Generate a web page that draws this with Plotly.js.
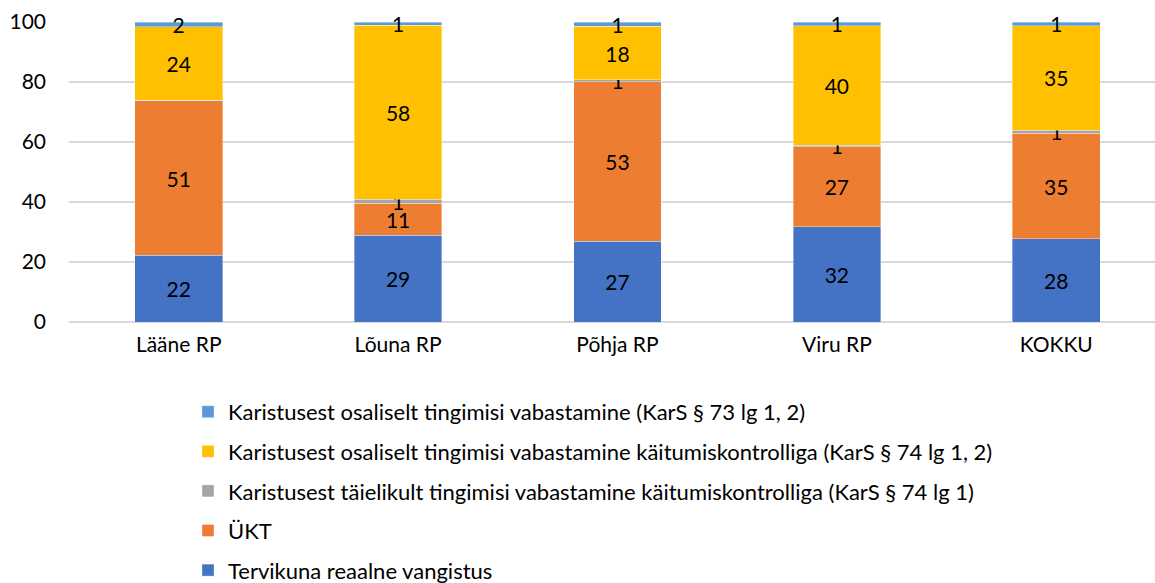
<!DOCTYPE html>
<html>
<head>
<meta charset="utf-8">
<script src="https://cdn.plot.ly/plotly-3.0.1.min.js"></script>
<style>html,body{margin:0;padding:0;background:#fff;}#chart{width:1155px;height:583px;}</style>
</head>
<body>
<div id="chart"></div>
<script>
const categories = ["Lääne RP", "Lõuna RP", "Põhja RP", "Viru RP", "KOKKU"];
const seriesNames = [
  "Tervikuna reaalne vangistus",
  "ÜKT",
  "Karistusest täielikult tingimisi vabastamine käitumiskontrolliga (KarS § 74 lg 1)",
  "Karistusest osaliselt tingimisi vabastamine käitumiskontrolliga (KarS § 74 lg 1, 2)",
  "Karistusest osaliselt tingimisi vabastamine (KarS § 73 lg 1, 2)"
];
const tervikuna = [22.3, 29.0, 27.0, 31.7, 27.7];
const ukt = [51.4, 10.6, 53.1, 26.7, 35.2];
const taielikult = [0.3, 1.3, 0.6, 0.6, 1.1];
const osaliseltKK = [24.4, 58.1, 17.9, 39.8, 34.7];
const osaliselt = [1.6, 1.0, 1.4, 1.2, 1.3];
const showLabel = [
  [true, true, true, true, true],
  [true, true, true, true, true],
  [false, true, true, true, true],
  [true, true, true, true, true],
  [true, true, true, true, true]
];
const colors = ["#4472C4", "#ED7D31", "#A5A5A5", "#FFC000", "#5B9BD5"];
const yTicks = [0, 20, 40, 60, 80, 100];

const allValues = [tervikuna, ukt, taielikult, osaliseltKK, osaliselt];
const FONT = "Lato, 'Open Sans', sans-serif";

const traces = allValues.map((vals, i) => ({
  type: "bar",
  name: seriesNames[i],
  x: categories,
  y: vals,
  text: vals.map((v, j) => showLabel[i][j] ? String(Math.round(v)) : ""),
  textposition: "inside",
  insidetextanchor: "middle",
  textangle: 0,
  textfont: {family: FONT, size: 21, color: "#000"},
  marker: {color: colors[i], line: {color: "rgba(255,255,255,0.6)", width: 0.6}},
  legendgroup: "g" + i,
  legendrank: 10 - i,
  hoverinfo: "skip",
  cliponaxis: false
}));

const layout = {
  width: 1155,
  height: 583,
  barmode: "stack",
  bargap: 0.6,
  margin: {l: 69, r: 0, t: 22, b: 261, autoexpand: false},
  paper_bgcolor: "#fff",
  plot_bgcolor: "#fff",
  font: {family: FONT, size: 21, color: "#000"},
  uniformtext: {mode: "show", minsize: 21},
  xaxis: {
    type: "category",
    range: [-0.5, 4.45],
    showgrid: false,
    showline: false,
    ticks: "",
    ticklabelstandoff: 8,
    tickfont: {family: FONT, size: 21, color: "#000"},
    fixedrange: true
  },
  yaxis: {
    range: [0, 100],
    tickvals: yTicks,
    ticktext: yTicks.map(String),
    showgrid: true,
    gridcolor: "#D9D9D9",
    gridwidth: 1.5,
    zeroline: true,
    zerolinecolor: "#D9D9D9",
    zerolinewidth: 1.5,
    showline: false,
    ticks: "",
    ticklabelstandoff: 22,
    tickfont: {family: FONT, size: 21, color: "#000"},
    fixedrange: true
  },
  showlegend: true,
  legend: {
    orientation: "v",
    traceorder: "grouped",
    tracegroupgap: 8,
    x: 0.1096,
    xanchor: "left",
    y: -0.2297,
    yanchor: "top",
    font: {family: FONT, size: 22, color: "#000"},
    bgcolor: "rgba(0,0,0,0)"
  }
};

Plotly.newPlot("chart", traces, layout, {displayModeBar: false, staticPlot: true});
</script>
</body>
</html>
